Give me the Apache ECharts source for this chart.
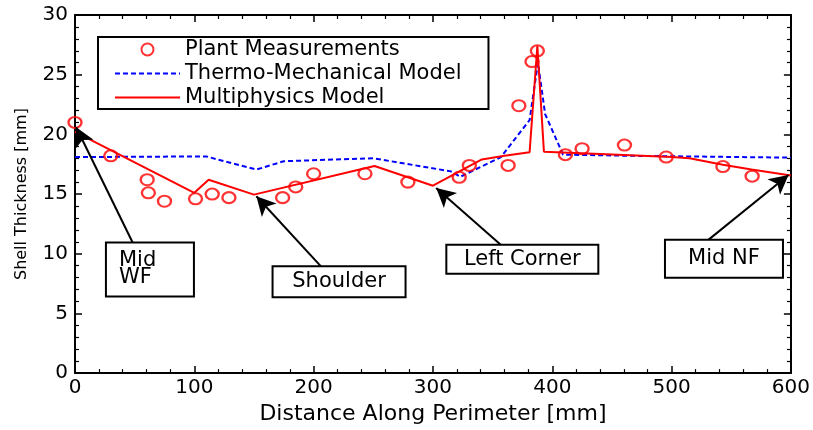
<!DOCTYPE html>
<html>
<head>
<meta charset="utf-8">
<script src="https://cdn.jsdelivr.net/npm/echarts@6/dist/echarts.min.js"></script>
<style>
  html, body { margin: 0; padding: 0; background: #fff; }
  #chart { width: 813px; height: 430px; }
</style>
</head>
<body>
<div id="chart"></div>
<script>
// plant measurements (circles)
var plantX = [0, 30, 60.5, 61.5, 75, 101, 115, 129, 174, 185, 200, 243, 279, 322, 330.5, 363, 372, 383, 387.5, 411, 425, 460.5, 495.5, 543, 567.5];
var plantY = [21.0, 18.2, 16.2, 15.1, 14.4, 14.6, 15.0, 14.7, 14.7, 15.6, 16.7, 16.7, 16.0, 16.4, 17.4, 17.4, 22.4, 26.1, 27.0, 18.3, 18.8, 19.1, 18.1, 17.3, 16.5];

// thermo-mechanical model (blue dashed)
var thermoX = [0, 110, 152, 175, 250, 315, 323, 357, 381, 388, 394, 409, 470, 600];
var thermoY = [18.1, 18.15, 17.05, 17.75, 18.0, 16.9, 16.45, 18.1, 21.2, 26.0, 21.7, 18.3, 18.2, 18.05];

// multiphysics model (red solid)
var multiX = [0, 100, 112, 150, 251, 300, 341, 360, 381, 387.5, 393, 440, 500, 515, 543, 567, 600];
var multiY = [20.2, 15.1, 16.2, 14.95, 17.35, 15.7, 17.9, 18.2, 18.5, 27.4, 18.55, 18.35, 18.1, 18.0, 17.45, 17.05, 16.55];

// annotation boxes and arrows (data coordinates)
var noteText = [['Mid', 'WF'], ['Shoulder'], ['Left Corner'], ['Mid NF']];
var noteAt = [[62.8, 9.35], [221.3, 8.33], [374.9, 10.2], [543.9, 10.24]];
var arrowFrom = [[48.5, 10.9], [206.5, 8.9], [357.5, 10.7], [530, 11.1]];
var arrowTo = [[1, 20.6], [152, 14.82], [302.7, 15.5], [598, 16.6]];
// outer box size of each note, px
var noteBoxSize = [[86, 52], [131, 29], [150, 27], [116, 36]];

function zip(xs, ys) {
  return xs.map(function (x, i) { return [x, ys[i]]; });
}

var font = 'DejaVu Sans';
var lineH = 17;
var chart = echarts.init(document.getElementById('chart'));

var tickAxis = {
  axisLine: { show: true, onZero: false, lineStyle: { color: '#000', width: 2 } },
  axisTick: { show: true, inside: true, length: 7, lineStyle: { color: '#000', width: 1.5 } },
  minorTick: { show: true, splitNumber: 5, length: 4, lineStyle: { color: '#000', width: 1.2 } },
  splitLine: { show: false },
  minorSplitLine: { show: false }
};

var option = {
  animation: false,
  backgroundColor: '#fff',
  grid: { left: 75, right: 21, top: 15, bottom: 46 },
  xAxis: [
    Object.assign({
      type: 'value', min: 0, max: 600, interval: 100, position: 'bottom',
      name: 'Distance Along Perimeter [mm]', nameLocation: 'middle', nameGap: 18,
      nameTextStyle: { fontFamily: font, fontSize: 22, color: '#000' },
      axisLabel: { margin: 5, fontFamily: font, fontSize: 20, color: '#000' }
    }, tickAxis),
    Object.assign({
      type: 'value', min: 0, max: 600, interval: 100, position: 'top',
      axisLabel: { show: false }
    }, tickAxis)
  ],
  yAxis: [
    Object.assign({
      type: 'value', min: 0, max: 30, interval: 5, position: 'left',
      name: 'Shell Thickness [mm]', nameLocation: 'middle', nameGap: 45,
      nameTextStyle: { fontFamily: font, fontSize: 16, color: '#000' },
      axisLabel: { margin: 7, fontFamily: font, fontSize: 20, color: '#000' }
    }, tickAxis),
    Object.assign({
      type: 'value', min: 0, max: 30, interval: 5, position: 'right',
      axisLabel: { show: false }
    }, tickAxis)
  ],
  legend: {
    data: [
      { name: 'Plant Measurements' },
      { name: 'Thermo-Mechanical Model', itemStyle: { opacity: 0 } },
      { name: 'Multiphysics Model', itemStyle: { opacity: 0 } }
    ],
    orient: 'vertical', left: 98, top: 37,
    itemWidth: 65, itemHeight: 12, itemGap: 3,
    padding: [2, 27, 1, 16],
    borderColor: '#000', borderWidth: 2, backgroundColor: '#fff',
    selectedMode: false,
    textStyle: { fontFamily: font, fontSize: 21, lineHeight: 20, color: '#000' }
  },
  series: [
    {
      name: 'Thermo-Mechanical Model', type: 'line',
      data: zip(thermoX, thermoY),
      symbol: 'none',
      lineStyle: { color: '#0000ff', width: 2, type: [5, 3] },
      itemStyle: { color: '#0000ff' },
      z: 2
    },
    {
      name: 'Multiphysics Model', type: 'line',
      data: zip(multiX, multiY),
      symbol: 'none',
      lineStyle: { color: '#ff0000', width: 2 },
      itemStyle: { color: '#ff0000' },
      z: 3
    },
    {
      name: 'Plant Measurements', type: 'scatter',
      data: zip(plantX, plantY),
      symbol: 'circle', symbolSize: [13, 11],
      itemStyle: { color: 'rgba(255,255,255,0)', borderColor: '#ff0000', borderWidth: 2.2 },
      z: 4
    },
    {
      name: 'notes', type: 'line', data: [], z: 6,
      markLine: {
        silent: true, animation: false,
        symbol: ['none', 'arrow'], symbolSize: [15, 19],
        lineStyle: { color: '#000', width: 2, type: 'solid' },
        label: { show: false },
        data: arrowFrom.map(function (p, i) {
          return [{ coord: p }, { coord: arrowTo[i] }];
        })
      },
      markPoint: {
        silent: true, animation: false,
        symbol: 'circle', symbolSize: 0,
        data: noteText.map(function (lines, i) {
          var w = noteBoxSize[i][0], h = noteBoxSize[i][1];
          var multi = lines.length > 1;
          var padL = multi ? 12 : 2;
          var padV = (h - lines.length * lineH) / 2;
          return {
            name: lines.join('\n'),
            coord: noteAt[i],
            label: {
              show: true, position: 'inside', color: '#000',
              offset: [0, 8],
              fontFamily: font, fontSize: 21, lineHeight: lineH,
              backgroundColor: '#fff', borderColor: '#000', borderWidth: 2,
              padding: [padV, 2, padV, padL],
              width: w - padL - 2,
              formatter: lines.map(function (s) { return '{t|' + s + '}'; }).join('\n'),
              rich: { t: { fontFamily: font, fontSize: 21, lineHeight: lineH, align: multi ? 'left' : 'center' } }
            }
          };
        })
      }
    }
  ]
};

chart.setOption(option);
</script>
</body>
</html>
